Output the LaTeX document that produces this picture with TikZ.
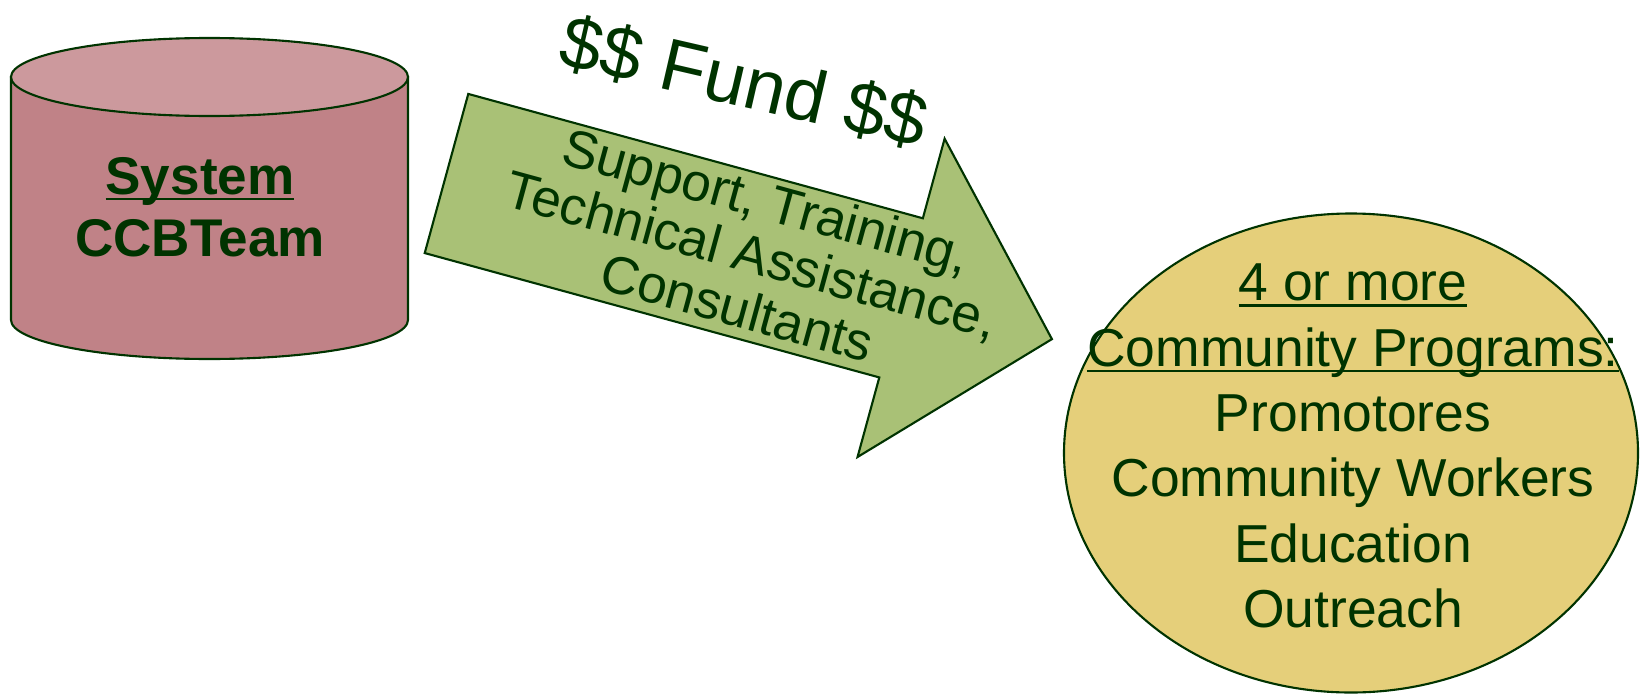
\documentclass[tikz,border=0pt]{standalone}
\usepackage{fontspec}
\setmainfont{Liberation Sans}
\usetikzlibrary{shapes.geometric}
\definecolor{ink}{RGB}{0,51,0}
\definecolor{cylside}{RGB}{192,130,135}
\definecolor{cyltop}{RGB}{204,153,157}
\definecolor{flowfill}{RGB}{169,193,118}
\definecolor{progfill}{RGB}{229,207,122}
\newsavebox{\ulbox}
\newcommand{\undertext}[1]{\sbox\ulbox{#1}\rlap{\rule[-1.7pt]{\wd\ulbox}{0.7pt}}\usebox\ulbox}

\begin{document}
\begin{tikzpicture}[line width=0.6pt,
    every node/.style={text=ink},
    shell/.style={draw=ink, fill=cylside},
    lid/.style={draw=ink, fill=cyltop},
    flow/.style={draw=ink, fill=flowfill},
    programs/.style={draw=ink, fill=progfill, ellipse, minimum width=5.74cm, minimum height=4.79cm, inner sep=0pt}]
    \useasboundingbox (0,0) rectangle (16.4,6.95);
    % cylinder
    \filldraw[shell] (0.11,6.18) -- (0.11,3.75) arc[start angle=180, end angle=360, x radius=1.985, y radius=0.39] -- (4.08,6.18) -- cycle;
    \filldraw[lid] (2.095,6.18) ellipse [x radius=1.985, y radius=0.39];
    \node[align=center, font=\bfseries\fontsize{15.1}{17.6}\selectfont] (team) at (2.0,4.88) {\undertext{System}\\CCBTeam};
    % arrow
    \begin{scope}[shift={(4.465,5.215)}, rotate=-15.3]
        \filldraw[flow] (0,0.825) -- (4.713,0.825) -- (4.713,1.65) -- (6.277,0) -- (4.713,-1.65) -- (4.713,-0.825) -- (0,-0.825) -- cycle;
        \node[rotate=-15.3, align=center, font=\fontsize{15.1}{15.8}\selectfont] (help) at (3.16,0.03) {Support, Training,\\Technical Assistance,\\Consultants};
    \end{scope}
    \node[rotate=-13, font=\fontsize{21}{26}\selectfont] (fund) at (7.44,6.13) {\$\$ Fund \$\$};
    % programs
    \node[programs] (circle) at (13.51,2.42) {};
    \node[align=center, font=\fontsize{15.2}{18.6}\selectfont] (list) at (13.53,2.49) {\undertext{4 or more}\\\undertext{Community Programs:}\\Promotores\\Community Workers\\Education\\Outreach};
\end{tikzpicture}
\end{document}
